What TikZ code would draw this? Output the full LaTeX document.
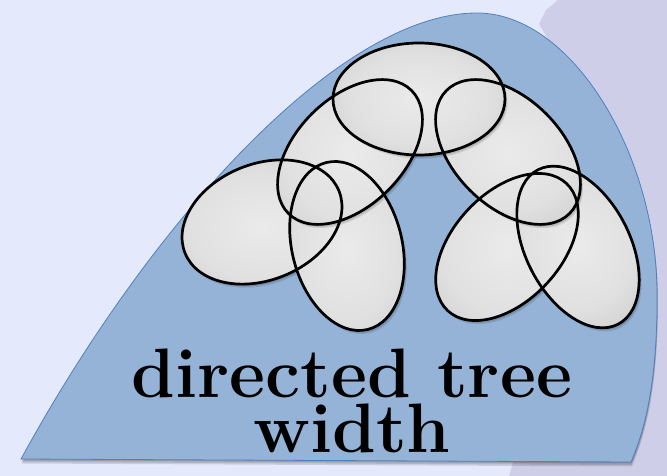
\documentclass[tikz,border=0pt]{standalone}
\usepackage{tikz}
\definecolor{PageLilac}{HTML}{E5E9FC}
\definecolor{SlateLilac}{HTML}{CECEE8}
\definecolor{ShapeBlue}{HTML}{95B3D7}
\definecolor{EdgeBlue}{HTML}{4F81BD}
\pgfdeclareradialshading{bagshade}{\pgfpoint{0bp}{0bp}}{color(0bp)=(black!8);
  color(20bp)=(black!12); color(50bp)=(black!28); color(70bp)=(black!34)}
\newcommand{\bagList}{262/222/83/58/22, 347/246/55/86/14, 350/152/87/54/45,
  507/247/87/54/47, 578/247/52/87/27.5, 508/152/87/54/-45, 419/99/86/56/0}

\begin{document}
\begin{tikzpicture}[
  x=1pt,y=-1pt,
  region/.style={fill=ShapeBlue,draw=EdgeBlue,line width=0.8pt},
  regionshadow/.style={fill=black,opacity=0.12},
  bag/.style={shading=bagshade},
  bagshadow/.style={fill=black,opacity=0.1},
  bagline/.style={draw=black,line width=2.7pt},
  bigword/.style={inner sep=0pt,align=center,font=\fontsize{70}{55}\selectfont\bfseries}
]
\useasboundingbox (0,0) rectangle (667,476);
% page
\fill[PageLilac] (0,0) rectangle (667,476);
\fill[SlateLilac] (558,0) -- (667,0) -- (667,476) -- (509,476) -- (520,440)
  -- (560,300) -- (560,60) -- (539,24) -- (546,10) -- cycle;
% the blue region, with a soft shadow under it
\foreach \s in {1.5,3,4.5}
  \fill[regionshadow,xshift=0.2*\s pt,yshift=-\s pt] (21,459) .. controls (151,221) and (340,13) .. (477,13)
    .. controls (570,13) and (655,150) .. (657,290)
    .. controls (658,380) and (645,430) .. (631,462) -- cycle;
\path[region] (21,459) .. controls (151,221) and (340,13) .. (477,13)
  .. controls (570,13) and (655,150) .. (657,290)
  .. controls (658,380) and (645,430) .. (631,462) -- cycle;
% bags of the decomposition
\foreach \cx/\cy/\rx/\ry/\ang in \bagList {
  \foreach \s in {1.2,2.4,3.6}
    \fill[bagshadow,xshift=0.7*\s pt,yshift=-\s pt,rotate around={\ang:(\cx,\cy)}]
      (\cx,\cy) ellipse [x radius=\rx,y radius=\ry];
  \path[bag,rotate around={\ang:(\cx,\cy)}]
    (\cx,\cy) ellipse [x radius=\rx,y radius=\ry];
}
\foreach \cx/\cy/\rx/\ry/\ang in \bagList
  \path[bagline,rotate around={\ang:(\cx,\cy)}]
    (\cx,\cy) ellipse [x radius=\rx,y radius=\ry];
\node[bigword,anchor=north] (caption) at (352,349) {directed tree\\width};
\end{tikzpicture}
\end{document}
